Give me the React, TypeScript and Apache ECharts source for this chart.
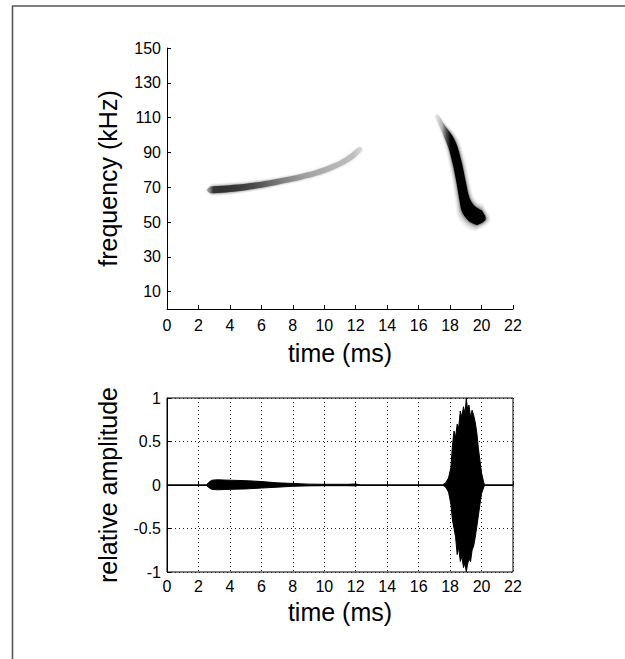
import React, { useEffect, useRef } from "react";
import * as echarts from "echarts";

// ---- Data ----
const timeTicks = [0, 2, 4, 6, 8, 10, 12, 14, 16, 18, 20, 22];
const freqTicks = [10, 30, 50, 70, 90, 110, 130, 150];
const ampTicks = [-1, -0.5, 0, 0.5, 1];

// Spectrogram ridge of the emitted call (time ms, frequency kHz, intensity 0..1, spread kHz)
const callTimes = [2.7, 2.95, 3.5, 4.5, 5.5, 6.5, 7.5, 8.5, 9.5, 10.5, 11.3, 11.9, 12.3];
const callFreqs = [68.3, 68.5, 68.8, 69.6, 70.8, 72.2, 74.0, 75.9, 78.2, 81.5, 85.0, 88.8, 92.0];
const callIntensity = [0.35, 0.7, 0.72, 0.68, 0.6, 0.48, 0.38, 0.3, 0.25, 0.22, 0.2, 0.18, 0.12];
const callSpread = [3.2, 4, 4, 3.8, 3.6, 3.4, 3.2, 3.2, 3.2, 3.2, 3.2, 3.2, 2.5];

// Spectrogram ridge of the echo
const echoTimes = [17.15, 17.5, 17.85, 18.05, 18.25, 18.5, 18.72, 18.92, 19.15, 19.45, 19.7, 19.9];
const echoFreqs = [111, 105, 99.5, 96, 91, 82, 72, 63, 57.5, 54.5, 53, 52.5];
const echoIntensity = [0.08, 0.22, 0.7, 1, 1, 1, 1, 1, 1, 1, 1, 1];
const echoSpread = [2, 3, 4.5, 5.0, 5.2, 5.3, 5.4, 6.0, 8.0, 9.0, 9.0, 8.5];

// Waveform envelope (time ms, upper / lower relative amplitude)
const waveTimes = [0, 2.5, 2.65, 2.85, 3.2, 4.0, 5.0, 6.0, 7.0, 8.0, 9.0, 10.0, 11.5, 12.0, 12.3,
  17.5, 17.7, 17.9, 18.05, 18.15, 18.25, 18.35, 18.45, 18.55, 18.65, 18.75, 18.85, 18.95, 19.03,
  19.1, 19.2, 19.3, 19.4, 19.5, 19.6, 19.7, 19.8, 19.9, 20.0, 20.15, 20.25, 22];
const waveUpper = [0, 0, 0.03, 0.055, 0.06, 0.055, 0.05, 0.04, 0.025, 0.018, 0.01, 0.008, 0.008, 0.012, 0,
  0, 0.02, 0.08, 0.2, 0.45, 0.62, 0.55, 0.7, 0.66, 0.85, 0.78, 0.9, 0.82, 1.0,
  0.88, 0.92, 0.78, 0.86, 0.8, 0.72, 0.6, 0.42, 0.28, 0.14, 0.02, 0, 0];
const waveLower = [0, 0, -0.03, -0.05, -0.055, -0.05, -0.045, -0.035, -0.025, -0.015, -0.01, -0.008, -0.008, -0.01, 0,
  0, -0.02, -0.08, -0.22, -0.4, -0.5, -0.6, -0.8, -0.72, -0.88, -0.82, -0.95, -0.9, -1.0,
  -0.92, -0.85, -0.88, -0.75, -0.7, -0.6, -0.48, -0.35, -0.22, -0.1, -0.02, 0, 0];

const FONT = "'Liberation Sans', Arial, Helvetica, sans-serif";

const LAYERS = [
  { s: 1.85, a: 0.06 },
  { s: 1.6, a: 0.08 },
  { s: 1.38, a: 0.12 },
  { s: 1.18, a: 0.22 },
  { s: 1.0, a: 1.0 },
];

function ribbon(n: number) {
  return (params: any, api: any) => {
    if (params.dataIndexInside !== 0) return null;
    const pts: number[][] = [];
    const hs: number[] = [];
    const is: number[] = [];
    for (let i = 0; i < n; i++) {
      pts.push(api.coord([api.value(0, i), api.value(1, i)]));
      is.push(api.value(2, i));
      hs.push(Math.abs(api.size([0, api.value(3, i)])[1]) / 2);
    }
    const dirs: number[][] = [];
    for (let i = 0; i < n; i++) {
      const a = pts[Math.max(0, i - 1)];
      const b = pts[Math.min(n - 1, i + 1)];
      const dx = b[0] - a[0], dy = b[1] - a[1];
      const L = Math.hypot(dx, dy) || 1;
      dirs.push([dx / L, dy / L]);
    }
    const x0 = pts[0][0], x1 = pts[n - 1][0];
    const children = LAYERS.map((ly) => {
      const up: number[][] = [];
      const dn: number[][] = [];
      for (let i = 0; i < n; i++) {
        const h = hs[i] * ly.s;
        const nx = -dirs[i][1], ny = dirs[i][0];
        up.push([pts[i][0] + nx * h, pts[i][1] + ny * h]);
        dn.push([pts[i][0] - nx * h, pts[i][1] - ny * h]);
      }
      const hS = hs[0] * ly.s * 0.8, hE = hs[n - 1] * ly.s * 0.8;
      const tipS = [pts[0][0] - dirs[0][0] * hS, pts[0][1] - dirs[0][1] * hS];
      const tipE = [pts[n - 1][0] + dirs[n - 1][0] * hE, pts[n - 1][1] + dirs[n - 1][1] * hE];
      const poly = [tipS, ...up, tipE, ...dn.reverse()];
      const stops = pts.map((p, i) => ({
        offset: Math.min(1, Math.max(0, (p[0] - x0) / (x1 - x0))),
        color: `rgba(0,0,0,${Math.min(1, is[i] * ly.a).toFixed(3)})`,
      }));
      return {
        type: "polygon",
        shape: { points: poly, smooth: 0.35 },
        style: {
          fill: { type: "linear", x: x0, y: 0, x2: x1, y2: 0, global: true, colorStops: stops },
          stroke: "none",
        },
      };
    });
    return { type: "group", children };
  };
}

const axisText = { color: "#000", fontFamily: FONT, fontSize: 16 };
const nameText = { color: "#000", fontFamily: FONT, fontSize: 25 };

export default function App() {
  const ref = useRef<HTMLDivElement>(null);
  useEffect(() => {
    if (!ref.current) return;
    const chart = echarts.init(ref.current, null, { renderer: "svg" });
    const callData = callTimes.map((t, i) => [t, callFreqs[i], callIntensity[i], callSpread[i]]);
    const echoData = echoTimes.map((t, i) => [t, echoFreqs[i], echoIntensity[i], echoSpread[i]]);
    const upper = waveTimes.map((t, i) => [t, waveUpper[i]]);
    const lower = waveTimes.map((t, i) => [t, waveLower[i]]);
    chart.setOption({
      animation: false,
      backgroundColor: "#fff",
      textStyle: { fontFamily: FONT },
      graphic: [
        { type: "line", shape: { x1: 12, y1: 6, x2: 625, y2: 6 }, style: { stroke: "#555", lineWidth: 1.6 } },
        { type: "line", shape: { x1: 12.5, y1: 6, x2: 12.5, y2: 659 }, style: { stroke: "#555", lineWidth: 1.6 } },
      ],
      grid: [
        { left: 167, top: 48, width: 346, height: 261, show: false },
        { left: 167, top: 398, width: 346, height: 174, show: true, borderColor: "#000", borderWidth: 1, backgroundColor: "transparent" },
      ],
      xAxis: [
        {
          gridIndex: 0, type: "value", min: 0, max: 22, interval: 2,
          name: "time (ms)", nameLocation: "middle", nameGap: 31, nameTextStyle: nameText,
          axisLine: { lineStyle: { color: "#000", width: 1 } },
          axisTick: { inside: true, length: 4, lineStyle: { color: "#000" }, customValues: timeTicks },
          axisLabel: { ...axisText, margin: 8, customValues: timeTicks },
          splitLine: { show: false },
        },
        {
          gridIndex: 1, type: "value", min: 0, max: 22, interval: 2,
          name: "time (ms)", nameLocation: "middle", nameGap: 27, nameTextStyle: nameText,
          axisLine: { lineStyle: { color: "#000", width: 1 } },
          axisTick: { inside: true, length: 4, lineStyle: { color: "#000" } },
          axisLabel: { ...axisText, margin: 6, formatter: (v: number) => (timeTicks.includes(v) ? String(v) : "") },
          splitLine: { show: true, lineStyle: { color: "#222", type: [1, 3], width: 1 } },
        },
      ],
      yAxis: [
        {
          gridIndex: 0, type: "value", min: 0, max: 150, interval: 10,
          name: "frequency (kHz)", nameLocation: "middle", nameGap: 47, nameTextStyle: nameText,
          axisLine: { show: true, lineStyle: { color: "#000", width: 1 } },
          axisTick: { show: true, inside: true, length: 4, lineStyle: { color: "#000" }, customValues: freqTicks },
          axisLabel: { ...axisText, margin: 6, customValues: freqTicks },
          splitLine: { show: false },
        },
        {
          gridIndex: 1, type: "value", min: -1, max: 1, interval: 0.5,
          name: "relative amplitude", nameLocation: "middle", nameGap: 47, nameTextStyle: nameText,
          axisLine: { show: true, lineStyle: { color: "#000", width: 1 } },
          axisTick: { show: true, inside: true, length: 4, lineStyle: { color: "#000" } },
          axisLabel: { ...axisText, margin: 6, formatter: (v: number) => (ampTicks.includes(v) ? String(v) : "") },
          splitLine: { show: true, lineStyle: { color: "#222", type: [1, 3], width: 1 } },
        },
      ],
      series: [
        {
          type: "custom", xAxisIndex: 0, yAxisIndex: 0, data: callData,
          renderItem: ribbon(callData.length), silent: true,
        },
        {
          type: "custom", xAxisIndex: 0, yAxisIndex: 0, data: echoData,
          renderItem: ribbon(echoData.length), silent: true,
        },
        {
          type: "line", xAxisIndex: 1, yAxisIndex: 1, data: upper, showSymbol: false,
          lineStyle: { color: "#000", width: 1 }, areaStyle: { color: "#000", opacity: 1 }, silent: true,
        },
        {
          type: "line", xAxisIndex: 1, yAxisIndex: 1, data: lower, showSymbol: false,
          lineStyle: { color: "#000", width: 1 }, areaStyle: { color: "#000", opacity: 1 }, silent: true,
        },
      ],
    });
    return () => chart.dispose();
  }, []);
  return (
    <div
      ref={ref}
      style={{ position: "fixed", left: 0, top: 0, width: 625, height: 659, background: "#fff" }}
    />
  );
}
